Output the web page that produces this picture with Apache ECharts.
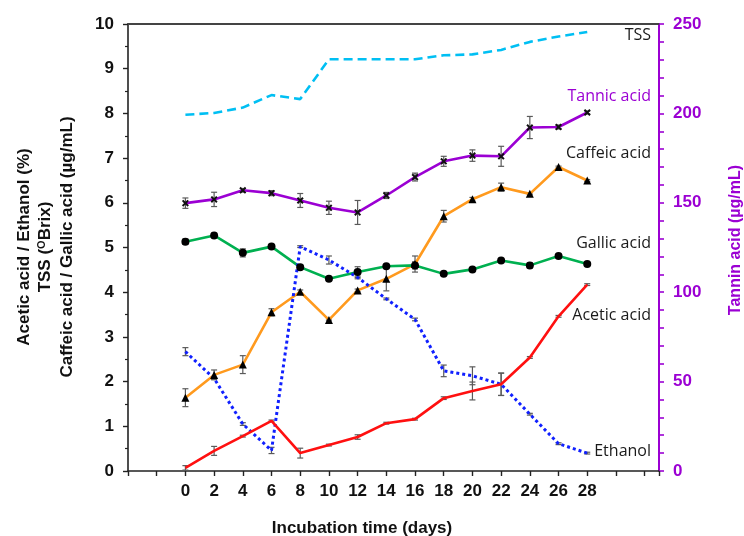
<!DOCTYPE html>
<html><head><meta charset="utf-8">
<script src="https://cdn.jsdelivr.net/npm/echarts@6/dist/echarts.min.js"></script>
<style>html,body{margin:0;padding:0;background:#fff}#c{width:744px;height:536px}</style>
</head><body><div id="c"></div>
<script>
const days = [0,2,4,6,8,10,12,14,16,18,20,22,24,26,28];
const xTickLabels = [0,2,4,6,8,10,12,14,16,18,20,22,24,26,28];
const tss = [7.97,8.01,8.13,8.41,8.32,9.21,9.21,9.21,9.21,9.30,9.32,9.42,9.60,9.72,9.82];
const tannic = [149.8,151.9,157.0,155.4,151.3,147.2,144.6,154.1,164.4,173.2,176.4,176.0,192.1,192.4,200.5];
const tannicErr = [2.9,4.0,1.0,1.4,3.9,3.7,6.7,1.7,2.2,2.8,3.2,5.6,6.2,1.1,0.8];
const caffeic = [1.64,2.15,2.38,3.55,4.01,3.38,4.04,4.30,4.63,5.70,6.08,6.35,6.20,6.80,6.50];
const caffeicErr = [0.20,0.11,0.20,0.08,0.04,0.02,0.03,0.27,0.18,0.13,0.04,0.09,0.02,0.02,0.02];
const gallic = [5.13,5.27,4.88,5.02,4.56,4.30,4.45,4.58,4.60,4.41,4.51,4.71,4.60,4.81,4.63];
const gallicErr = [0.06,0.05,0.09,0.04,0.05,0.03,0.12,0.03,0.08,0.03,0.03,0.03,0.06,0.03,0.03];
const ethanol = [2.67,2.07,1.05,0.46,5.02,4.72,4.33,3.85,3.39,2.24,2.13,1.94,1.27,0.61,0.40];
const ethanolErr = [0.09,0.02,0.03,0.07,0.02,0.09,0.03,0.02,0.03,0.13,0.20,0.25,0.02,0.02,0.02];
const acetic = [0.07,0.45,0.78,1.12,0.40,0.58,0.76,1.07,1.16,1.63,1.79,1.94,2.54,3.46,4.17];
const aceticErr = [0.05,0.10,0.02,0.02,0.11,0.02,0.05,0.02,0.02,0.03,0.20,0.25,0.02,0.02,0.02];

const PURPLE = '#9B00D3';
const AX_FONT = 'Liberation Sans, Arial, sans-serif';
const LBL_FONT = 'Open Sans, sans-serif';

const pts = v => days.map((d,i)=>[d, v[i]]);
const errData = (v,e) => days.map((d,i)=>[d, v[i]-e[i], v[i]+e[i]]);

function errRender(params, api){
  const x = api.value(0), lo = api.value(1), hi = api.value(2);
  const p1 = api.coord([x, lo]), p2 = api.coord([x, hi]);
  const w = 3;
  const st = {stroke:'#5a5a5a', lineWidth:1.2};
  return {type:'group', children:[
    {type:'line', shape:{x1:p1[0],y1:p1[1],x2:p2[0],y2:p2[1]}, style:st},
    {type:'line', shape:{x1:p1[0]-w,y1:p1[1],x2:p1[0]+w,y2:p1[1]}, style:st},
    {type:'line', shape:{x1:p2[0]-w,y1:p2[1],x2:p2[0]+w,y2:p2[1]}, style:st}
  ]};
}
function errSeries(v,e,yIdx){
  return {type:'custom', yAxisIndex:yIdx||0, renderItem:errRender, data:errData(v,e),
    encode:{x:0,y:[1,2]}, z:3, silent:true};
}

const XMARK = 'path://M0,2L2,0L5,3L8,0L10,2L7,5L10,8L8,10L5,7L2,10L0,8L3,5Z';

const chart = echarts.init(document.getElementById('c'), null, {renderer:'canvas'});
chart.setOption({
  animation:false,
  grid:{left:128, right:85, top:24, bottom:65},
  xAxis:[{
    type:'value', min:-4, max:33, interval:2,
    axisLine:{show:true, onZero:false, lineStyle:{color:'#222', width:1.6}},
    axisTick:{show:true, inside:false, length:5, lineStyle:{color:'#222', width:1.4}},
    axisLabel:{margin:12, fontFamily:AX_FONT, fontWeight:'bold', fontSize:17, color:'#111',
      formatter:v => xTickLabels.indexOf(v) >= 0 ? String(v) : ''},
    splitLine:{show:false}
  },{
    type:'value', position:'top', min:-4, max:33,
    axisLine:{show:true, onZero:false, lineStyle:{color:'#444', width:2}},
    axisTick:{show:false}, axisLabel:{show:false}, splitLine:{show:false}
  }],
  yAxis:[{
    type:'value', min:0, max:10, interval:1, position:'left',
    axisLine:{show:true, onZero:false, lineStyle:{color:'#222', width:1.6}},
    axisTick:{show:true, inside:false, length:5, lineStyle:{color:'#222', width:1.4}},
    minorTick:{show:true, splitNumber:2, length:3, lineStyle:{color:'#222', width:1.2}},
    axisLabel:{margin:14, fontFamily:AX_FONT, fontWeight:'bold', fontSize:17, color:'#111'},
    splitLine:{show:false}
  },{
    type:'value', min:0, max:250, interval:10, position:'right',
    axisLine:{show:true, onZero:false, lineStyle:{color:PURPLE, width:2}},
    axisTick:{show:true, inside:false, length:5, lineStyle:{color:PURPLE, width:1.6}},
    axisLabel:{margin:14, fontFamily:AX_FONT, fontWeight:'bold', fontSize:17, color:PURPLE,
      formatter:v => (v % 50 === 0) ? String(v) : ''},
    splitLine:{show:false}
  }],
  series:[
    {name:'TSS', type:'line', data:pts(tss), showSymbol:false, symbol:'none',
      lineStyle:{color:'#00BFF3', width:2.6, type:[9,5]}, z:4},
    errSeries(tannic, tannicErr, 1),
    {name:'Tannic acid', type:'line', yAxisIndex:1, data:pts(tannic), symbol:XMARK, symbolSize:7,
      itemStyle:{color:'#111'}, lineStyle:{color:PURPLE, width:2.6}, z:4},
    errSeries(caffeic, caffeicErr),
    {name:'Caffeic acid', type:'line', data:pts(caffeic), symbol:'triangle', symbolSize:8,
      itemStyle:{color:'#000'}, lineStyle:{color:'#FF9A1E', width:2.6}, z:4},
    errSeries(gallic, gallicErr),
    {name:'Gallic acid', type:'line', data:pts(gallic), symbol:'circle', symbolSize:8,
      itemStyle:{color:'#000'}, lineStyle:{color:'#00B050', width:2.6}, z:4},
    errSeries(ethanol, ethanolErr),
    {name:'Ethanol', type:'line', data:pts(ethanol), symbol:'none',
      lineStyle:{color:'#1020FF', width:3, type:[3,3]}, z:4},
    errSeries(acetic, aceticErr),
    {name:'Acetic acid', type:'line', data:pts(acetic), symbol:'none',
      lineStyle:{color:'#FF1010', width:2.6}, z:4}
  ],
  graphic:[
    {type:'text', x:651, y:35, style:{text:'TSS', fill:'#1a1a1a', font:'16px '+LBL_FONT, textAlign:'right', textVerticalAlign:'middle'}},
    {type:'text', x:651, y:96, style:{text:'Tannic acid', fill:PURPLE, font:'16px '+LBL_FONT, textAlign:'right', textVerticalAlign:'middle'}},
    {type:'text', x:651, y:153, style:{text:'Caffeic acid', fill:'#1a1a1a', font:'16px '+LBL_FONT, textAlign:'right', textVerticalAlign:'middle'}},
    {type:'text', x:651, y:243, style:{text:'Gallic acid', fill:'#1a1a1a', font:'16px '+LBL_FONT, textAlign:'right', textVerticalAlign:'middle'}},
    {type:'text', x:651, y:315, style:{text:'Acetic acid', fill:'#1a1a1a', font:'16px '+LBL_FONT, textAlign:'right', textVerticalAlign:'middle'}},
    {type:'text', x:651, y:451, style:{text:'Ethanol', fill:'#1a1a1a', font:'16px '+LBL_FONT, textAlign:'right', textVerticalAlign:'middle'}},
    {type:'text', x:362, y:528, style:{text:'Incubation time (days)', fill:'#111', font:'bold 17px '+AX_FONT, textAlign:'center', textVerticalAlign:'middle'}},
    {type:'text', x:736, y:240, rotation:Math.PI/2, style:{text:'Tannin acid (µg/mL)', fill:PURPLE, font:'bold 16px '+AX_FONT, textAlign:'center', textVerticalAlign:'middle'}},
    {type:'text', x:24, y:247, rotation:Math.PI/2, style:{text:'Acetic acid / Ethanol (%)', fill:'#111', font:'bold 17px '+AX_FONT, textAlign:'center', textVerticalAlign:'middle'}},
    {type:'text', x:45, y:247, rotation:Math.PI/2, style:{text:'TSS ({sup|O}Brix)', fill:'#111', font:'bold 17px '+AX_FONT, textAlign:'center', textVerticalAlign:'middle',
      rich:{sup:{fontSize:11, fontWeight:'bold', fontFamily:AX_FONT, verticalAlign:'top', padding:[0,0,6,0]}}}},
    {type:'text', x:67, y:247, rotation:Math.PI/2, style:{text:'Caffeic acid / Gallic acid (µg/mL)', fill:'#111', font:'bold 17px '+AX_FONT, textAlign:'center', textVerticalAlign:'middle'}}
  ]
});
</script></body></html>
